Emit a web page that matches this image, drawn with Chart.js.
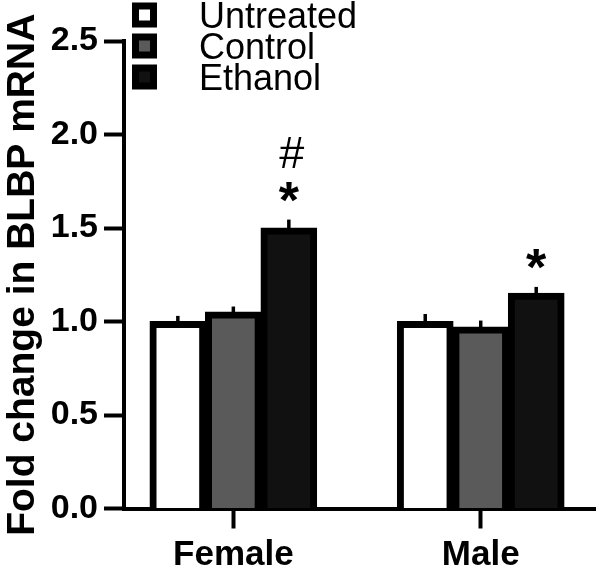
<!DOCTYPE html>
<html>
<head>
<meta charset="utf-8">
<script src="https://cdn.jsdelivr.net/npm/chart.js@4.4.1/dist/chart.umd.min.js"></script>
<style>
  html, body { margin: 0; padding: 0; background: #fff; }
</style>
</head>
<body>
<canvas id="blbp_graph" width="596" height="568"></canvas>
<script>
const groups = ['Female', 'Male'];
const seriesNames = ['Untreated', 'Control', 'Ethanol'];
const seriesFill = ['#ffffff', '#5a5a5a', '#111111'];
const untreated = [1.00, 1.00];
const control = [1.05, 0.97];
const ethanol = [1.50, 1.15];
const untreatedSem = [0.03, 0.04];
const controlSem = [0.03, 0.035];
const ethanolSem = [0.045, 0.035];
const yTicks = [0.0, 0.5, 1.0, 1.5, 2.0, 2.5];
// significance marks: dataset, group, symbols from top to bottom
const marks = [
    [2, 0, ['#', '*']],
    [2, 1, ['*']],
];

const FONT = '"Liberation Sans", Arial, sans-serif';

function points(values) {
    return values.map((v, i) => ({ x: i, y: v }));
}

const extras = {
    id: 'extras',
    afterDatasetsDraw(chart) {
        const ctx = chart.ctx;
        const y = chart.scales.y;
        const area = chart.chartArea;
        ctx.save();

        // error bars, upward only
        ctx.strokeStyle = '#000';
        ctx.lineWidth = 3.5;
        chart.data.datasets.forEach((ds, di) => {
            chart.getDatasetMeta(di).data.forEach((bar, i) => {
                const v = ds.data[i].y;
                ctx.beginPath();
                ctx.moveTo(bar.x, y.getPixelForValue(v) + 2);
                ctx.lineTo(bar.x, y.getPixelForValue(v + ds.sem[i]));
                ctx.stroke();
            });
        });

        // significance symbols
        ctx.fillStyle = '#000';
        ctx.textAlign = 'center';
        ctx.textBaseline = 'alphabetic';
        marks.forEach(([di, i, syms]) => {
            const ds = chart.data.datasets[di];
            const bar = chart.getDatasetMeta(di).data[i];
            let cy = y.getPixelForValue(ds.data[i].y + ds.sem[i]) - 28;
            for (let k = syms.length - 1; k >= 0; k--) {
                const s = syms[k];
                ctx.font = s === '*' ? 'bold 52px ' + FONT : '45px ' + FONT;
                const m = ctx.measureText(s);
                const base = cy + (m.actualBoundingBoxAscent - m.actualBoundingBoxDescent) / 2;
                ctx.fillText(s, bar.x + (s === '#' ? 3 : 0), base);
                cy -= 39;
            }
        });

        // legend
        ctx.font = '36px ' + FONT;
        ctx.textAlign = 'left';
        const cap = ctx.measureText('E').actualBoundingBoxAscent;
        chart.data.datasets.forEach((ds, di) => {
            const cy = area.top - 26 + di * 31;
            const bx = area.left + 8;
            ctx.fillStyle = '#000';
            ctx.fillRect(bx, cy - 12.5, 25, 25);
            ctx.fillStyle = ds.backgroundColor;
            ctx.fillRect(bx + 7, cy - 5.5, 11, 11);
            ctx.fillStyle = '#000';
            ctx.fillText(ds.label, bx + 67, cy + cap / 2);
        });
        ctx.restore();
    }
};

const ctx = document.getElementById('blbp_graph');
const semSets = [untreatedSem, controlSem, ethanolSem];
const chart = new Chart(ctx, {
    type: 'bar',
    data: {
        datasets: [untreated, control, ethanol].map((vals, k) => ({
            label: seriesNames[k],
            data: points(vals),
            sem: semSets[k],
            backgroundColor: seriesFill[k],
            borderColor: '#000',
            borderWidth: 7,
            borderSkipped: 'start',
            inflateAmount: 0.6,
            barPercentage: 1,
            categoryPercentage: 0.673,
        }))
    },
    options: {
        responsive: false,
        animation: false,
        events: [],
        layout: { padding: { top: 41, left: 0, right: 0, bottom: 0 } },
        plugins: {
            legend: { display: false },
            tooltip: { enabled: false },
        },
        scales: {
            x: {
                type: 'linear',
                min: -0.442,
                max: 1.466,
                offset: false,
                afterBuildTicks: s => { s.ticks = groups.map((g, i) => ({ value: i })); },
                afterFit: s => { s.height = 59.5; },
                grid: { offset: false, drawOnChartArea: false, tickLength: 20, tickWidth: 4, tickColor: '#000' },
                border: { display: true, color: '#000', width: 4 },
                ticks: {
                    callback: v => groups[v],
                    color: '#000',
                    padding: 6,
                    maxRotation: 0,
                    autoSkip: false,
                    font: { family: FONT, size: 35, weight: 'bold' },
                },
            },
            y: {
                min: 0,
                max: 2.5,
                afterBuildTicks: s => { s.ticks = yTicks.map(v => ({ value: v })); },
                afterFit: s => { s.width = 124; },
                grid: { drawOnChartArea: false, tickLength: 20, tickWidth: 4, tickColor: '#000' },
                border: { display: true, color: '#000', width: 4 },
                ticks: {
                    callback: v => v.toFixed(1),
                    color: '#000',
                    padding: 6,
                    font: { family: FONT, size: 34, weight: 'bold' },
                },
                title: {
                    display: true,
                    text: 'Fold change in BLBP mRNA',
                    color: '#000',
                    padding: 0,
                    font: { family: FONT, size: 39, weight: 'bold' },
                },
            },
        },
    },
    plugins: [extras],
});
</script>
</body>
</html>
